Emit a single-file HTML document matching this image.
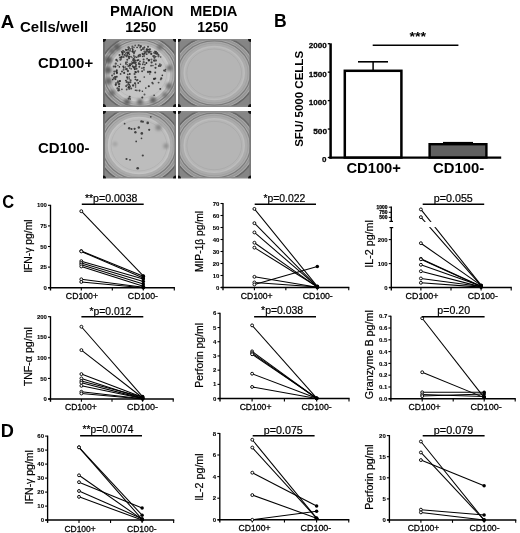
<!DOCTYPE html><html><head><meta charset="utf-8"><style>html,body{margin:0;padding:0;background:#fff;overflow:hidden;}svg{display:block;will-change:transform;filter:blur(0.3px);}text{font-family:"Liberation Sans", sans-serif;}</style></head><body>
<svg width="520" height="533" viewBox="0 0 520 533">
<rect width="520" height="533" fill="#fff"/>
<text font-size="18.41" font-weight="bold" fill="#000" transform="translate(0.63,27.70) scale(1.014,1)">A</text>
<text font-size="15.03" font-weight="bold" fill="#000" transform="translate(20.00,31.70) scale(0.997,1)">Cells/well</text>
<text font-size="15.17" font-weight="bold" fill="#000" transform="translate(110.03,16.20) scale(0.980,1)">PMA/ION</text>
<text font-size="14.37" font-weight="bold" fill="#000" transform="translate(125.19,31.96) scale(0.978,1)">1250</text>
<text font-size="14.64" font-weight="bold" fill="#000" transform="translate(189.94,16.00) scale(1.008,1)">MEDIA</text>
<text font-size="14.37" font-weight="bold" fill="#000" transform="translate(197.19,31.96) scale(0.978,1)">1250</text>
<text font-size="15.21" font-weight="bold" fill="#000" transform="translate(38.00,67.95) scale(0.981,1)">CD100+</text>
<text font-size="15.07" font-weight="bold" fill="#000" transform="translate(38.00,153.45) scale(0.994,1)">CD100-</text>
<defs>
<clipPath id="wc0"><rect x="103" y="39" width="73" height="68"/></clipPath>
<clipPath id="wc1"><rect x="178" y="39" width="73" height="68"/></clipPath>
<clipPath id="wc2"><rect x="103" y="111" width="73" height="67.5"/></clipPath>
<clipPath id="wc3"><rect x="178" y="111" width="73" height="67.5"/></clipPath>
<filter id="bl" x="-50%" y="-50%" width="200%" height="200%"><feGaussianBlur stdDeviation="0.6"/></filter>
<filter id="bl1" x="-20%" y="-20%" width="140%" height="140%"><feGaussianBlur stdDeviation="0.6"/></filter>
<filter id="bl2" x="-50%" y="-50%" width="200%" height="200%"><feGaussianBlur stdDeviation="1.5"/></filter>
<linearGradient id="topg" x1="0" y1="0" x2="0" y2="1"><stop offset="0" stop-color="#8e8e8e" stop-opacity="0.7"/><stop offset="1" stop-color="#8e8e8e" stop-opacity="0"/></linearGradient>
<radialGradient id="vig"><stop offset="0.78" stop-color="#9a9a9a" stop-opacity="0"/><stop offset="0.93" stop-color="#9a9a9a" stop-opacity="0.45"/><stop offset="1" stop-color="#8a8a8a" stop-opacity="0.8"/></radialGradient>
</defs>
<g clip-path="url(#wc0)"><g filter="url(#bl1)">
<rect x="100" y="36" width="79" height="74" fill="#b2b2b2"/>
<ellipse cx="139.8" cy="73.5" rx="46.61" ry="43.45" fill="none" stroke="#858585" stroke-width="12"/>
<ellipse cx="139.8" cy="73.5" rx="40.71" ry="37.95" fill="none" stroke="#666666" stroke-width="1.5"/>
<ellipse cx="139.8" cy="73.5" rx="38.05" ry="35.48" fill="none" stroke="#959595" stroke-width="1.8"/>
<ellipse cx="139.8" cy="73.5" rx="35.70" ry="33.27" fill="none" stroke="#7c7c7c" stroke-width="1.2"/>
<ellipse cx="139.8" cy="73.5" rx="33.33" ry="31.07" fill="none" stroke="#a0a0a0" stroke-width="1.0"/>
<ellipse cx="139.8" cy="73.5" rx="29.50" ry="27.50" fill="#c5c5c5" stroke="#cbcbcb" stroke-width="1.5"/>
<ellipse cx="139.8" cy="73.5" rx="26.90" ry="24.90" fill="none" stroke="#000" stroke-opacity="0.05" stroke-width="1"/>
<rect x="103" y="39" width="2.0" height="68" fill="#707070"/>
<rect x="174.4" y="39" width="1.6" height="68" fill="#7a7a7a"/>
<rect x="103" y="39" width="73" height="1.4" fill="#8a8a8a"/>
<rect x="103" y="105.6" width="73" height="1.4" fill="#8a8a8a"/>
<circle cx="103" cy="39" r="3.0" fill="#111"/>
<circle cx="176" cy="39" r="3.0" fill="#111"/>
<circle cx="103" cy="107" r="3.0" fill="#111"/>
<circle cx="176" cy="107" r="3.0" fill="#111"/>
</g></g>
<g clip-path="url(#wc1)"><g filter="url(#bl1)">
<rect x="175" y="36" width="79" height="74" fill="#ababab"/>
<ellipse cx="214.2" cy="73.0" rx="47.40" ry="42.03" fill="none" stroke="#858585" stroke-width="12"/>
<ellipse cx="214.2" cy="73.0" rx="41.40" ry="36.71" fill="none" stroke="#666666" stroke-width="1.5"/>
<ellipse cx="214.2" cy="73.0" rx="38.70" ry="34.31" fill="none" stroke="#959595" stroke-width="1.8"/>
<ellipse cx="214.2" cy="73.0" rx="36.30" ry="32.19" fill="none" stroke="#7c7c7c" stroke-width="1.2"/>
<ellipse cx="214.2" cy="73.0" rx="33.90" ry="30.06" fill="none" stroke="#a0a0a0" stroke-width="1.0"/>
<ellipse cx="214.2" cy="73.0" rx="30.00" ry="26.60" fill="#b5b5b5" stroke="#bdbdbd" stroke-width="1.5"/>
<ellipse cx="214.2" cy="73.0" rx="27.40" ry="24.00" fill="none" stroke="#000" stroke-opacity="0.05" stroke-width="1"/>
<rect x="178" y="39" width="2.0" height="68" fill="#707070"/>
<rect x="249.4" y="39" width="1.6" height="68" fill="#7a7a7a"/>
<rect x="178" y="39" width="73" height="1.4" fill="#8a8a8a"/>
<rect x="178" y="105.6" width="73" height="1.4" fill="#8a8a8a"/>
<circle cx="178" cy="39" r="3.0" fill="#111"/>
<circle cx="251" cy="39" r="3.0" fill="#111"/>
<circle cx="178" cy="107" r="3.0" fill="#111"/>
<circle cx="251" cy="107" r="3.0" fill="#111"/>
</g></g>
<g clip-path="url(#wc2)"><g filter="url(#bl1)">
<rect x="100" y="108" width="79" height="73.5" fill="#acacac"/>
<ellipse cx="139.0" cy="145.55" rx="48.19" ry="44.24" fill="none" stroke="#858585" stroke-width="12"/>
<ellipse cx="139.0" cy="145.55" rx="42.09" ry="38.64" fill="none" stroke="#666666" stroke-width="1.5"/>
<ellipse cx="139.0" cy="145.55" rx="39.34" ry="36.12" fill="none" stroke="#959595" stroke-width="1.8"/>
<ellipse cx="139.0" cy="145.55" rx="36.91" ry="33.88" fill="none" stroke="#7c7c7c" stroke-width="1.2"/>
<ellipse cx="139.0" cy="145.55" rx="34.46" ry="31.64" fill="none" stroke="#a0a0a0" stroke-width="1.0"/>
<ellipse cx="139.0" cy="145.55" rx="30.50" ry="28.00" fill="#bdbdbd" stroke="#c4c4c4" stroke-width="1.5"/>
<ellipse cx="139.0" cy="145.55" rx="27.90" ry="25.40" fill="none" stroke="#000" stroke-opacity="0.05" stroke-width="1"/>
<rect x="103" y="111" width="2.0" height="67.5" fill="#707070"/>
<rect x="174.4" y="111" width="1.6" height="67.5" fill="#7a7a7a"/>
<rect x="103" y="111" width="73" height="1.4" fill="#8a8a8a"/>
<rect x="103" y="177.1" width="73" height="1.4" fill="#8a8a8a"/>
<circle cx="103" cy="111" r="3.0" fill="#111"/>
<circle cx="176" cy="111" r="3.0" fill="#111"/>
<circle cx="103" cy="178.5" r="3.0" fill="#111"/>
<circle cx="176" cy="178.5" r="3.0" fill="#111"/>
</g></g>
<g clip-path="url(#wc3)"><g filter="url(#bl1)">
<rect x="175" y="108" width="79" height="73.5" fill="#ababab"/>
<ellipse cx="214.2" cy="145.55" rx="47.40" ry="42.34" fill="none" stroke="#858585" stroke-width="12"/>
<ellipse cx="214.2" cy="145.55" rx="41.40" ry="36.98" fill="none" stroke="#666666" stroke-width="1.5"/>
<ellipse cx="214.2" cy="145.55" rx="38.70" ry="34.57" fill="none" stroke="#959595" stroke-width="1.8"/>
<ellipse cx="214.2" cy="145.55" rx="36.30" ry="32.43" fill="none" stroke="#7c7c7c" stroke-width="1.2"/>
<ellipse cx="214.2" cy="145.55" rx="33.90" ry="30.28" fill="none" stroke="#a0a0a0" stroke-width="1.0"/>
<ellipse cx="214.2" cy="145.55" rx="30.00" ry="26.80" fill="#b5b5b5" stroke="#bdbdbd" stroke-width="1.5"/>
<ellipse cx="214.2" cy="145.55" rx="27.40" ry="24.20" fill="none" stroke="#000" stroke-opacity="0.05" stroke-width="1"/>
<rect x="178" y="111" width="2.0" height="67.5" fill="#707070"/>
<rect x="249.4" y="111" width="1.6" height="67.5" fill="#7a7a7a"/>
<rect x="178" y="111" width="73" height="1.4" fill="#8a8a8a"/>
<rect x="178" y="177.1" width="73" height="1.4" fill="#8a8a8a"/>
<circle cx="178" cy="111" r="3.0" fill="#111"/>
<circle cx="251" cy="111" r="3.0" fill="#111"/>
<circle cx="178" cy="178.5" r="3.0" fill="#111"/>
<circle cx="251" cy="178.5" r="3.0" fill="#111"/>
</g></g>
<g clip-path="url(#wc0)" filter="url(#bl)">
<circle cx="108.5" cy="60" r="3.5" fill="#5a5a5a" filter="url(#bl2)"/>
<circle cx="108" cy="70" r="3.5" fill="#5e5e5e" filter="url(#bl2)"/>
<circle cx="108.5" cy="81" r="3.5" fill="#666" filter="url(#bl2)"/>
<circle cx="112" cy="93" r="3" fill="#6a6a6a" filter="url(#bl2)"/>
<circle cx="127" cy="102" r="3" fill="#5e5e5e" filter="url(#bl2)"/>
<circle cx="140" cy="102" r="3" fill="#666" filter="url(#bl2)"/>
<circle cx="153" cy="100" r="3" fill="#5e5e5e" filter="url(#bl2)"/>
<circle cx="169.5" cy="68" r="3" fill="#707070" filter="url(#bl2)"/>
<circle cx="169" cy="86" r="3" fill="#6a6a6a" filter="url(#bl2)"/>
<circle cx="117" cy="47" r="3.5" fill="#5e5e5e" filter="url(#bl2)"/>
<circle cx="112" cy="51" r="3" fill="#6a6a6a" filter="url(#bl2)"/>
<circle cx="160" cy="47" r="3" fill="#707070" filter="url(#bl2)"/>
<circle cx="165" cy="95" r="2.5" fill="#707070" filter="url(#bl2)"/>
<circle cx="123.7" cy="57.0" r="1.01" fill="rgb(79,79,79)"/>
<circle cx="121.8" cy="57.1" r="0.99" fill="rgb(41,41,41)"/>
<circle cx="121.7" cy="51.9" r="0.79" fill="rgb(49,49,49)"/>
<circle cx="122.5" cy="54.7" r="0.85" fill="rgb(52,52,52)"/>
<circle cx="123.1" cy="51.1" r="1.12" fill="rgb(70,70,70)"/>
<circle cx="122.6" cy="52.9" r="1.14" fill="rgb(41,41,41)"/>
<circle cx="119.5" cy="55.0" r="1.00" fill="rgb(60,60,60)"/>
<circle cx="135.3" cy="50.8" r="0.87" fill="rgb(90,90,90)"/>
<circle cx="133.0" cy="51.9" r="0.91" fill="rgb(52,52,52)"/>
<circle cx="124.4" cy="54.9" r="0.84" fill="rgb(49,49,49)"/>
<circle cx="136.7" cy="57.3" r="0.80" fill="rgb(46,46,46)"/>
<circle cx="134.1" cy="52.2" r="1.07" fill="rgb(44,44,44)"/>
<circle cx="128.4" cy="47.4" r="1.03" fill="rgb(73,73,73)"/>
<circle cx="132.0" cy="57.5" r="0.81" fill="rgb(90,90,90)"/>
<circle cx="135.2" cy="45.5" r="0.91" fill="rgb(86,86,86)"/>
<circle cx="130.2" cy="49.0" r="0.83" fill="rgb(40,40,40)"/>
<circle cx="130.0" cy="50.8" r="1.10" fill="rgb(90,90,90)"/>
<circle cx="137.1" cy="47.3" r="0.88" fill="rgb(53,53,53)"/>
<circle cx="125.6" cy="55.4" r="1.07" fill="rgb(85,85,85)"/>
<circle cx="129.0" cy="57.1" r="1.12" fill="rgb(56,56,56)"/>
<circle cx="138.6" cy="55.3" r="0.89" fill="rgb(45,45,45)"/>
<circle cx="138.7" cy="45.4" r="1.10" fill="rgb(67,67,67)"/>
<circle cx="129.4" cy="54.2" r="0.81" fill="rgb(49,49,49)"/>
<circle cx="140.0" cy="56.0" r="0.96" fill="rgb(83,83,83)"/>
<circle cx="135.0" cy="56.7" r="0.95" fill="rgb(84,84,84)"/>
<circle cx="132.4" cy="46.5" r="1.04" fill="rgb(80,80,80)"/>
<circle cx="126.6" cy="50.0" r="1.11" fill="rgb(56,56,56)"/>
<circle cx="129.0" cy="47.9" r="1.09" fill="rgb(79,79,79)"/>
<circle cx="127.3" cy="55.2" r="1.14" fill="rgb(73,73,73)"/>
<circle cx="128.4" cy="49.7" r="0.91" fill="rgb(47,47,47)"/>
<circle cx="132.1" cy="51.4" r="0.76" fill="rgb(42,42,42)"/>
<circle cx="132.3" cy="48.2" r="1.07" fill="rgb(76,76,76)"/>
<circle cx="126.7" cy="56.4" r="0.93" fill="rgb(65,65,65)"/>
<circle cx="128.3" cy="49.3" r="0.80" fill="rgb(67,67,67)"/>
<circle cx="138.4" cy="56.5" r="1.12" fill="rgb(73,73,73)"/>
<circle cx="133.9" cy="56.3" r="0.80" fill="rgb(89,89,89)"/>
<circle cx="128.5" cy="53.2" r="0.85" fill="rgb(71,71,71)"/>
<circle cx="125.7" cy="53.3" r="0.80" fill="rgb(72,72,72)"/>
<circle cx="134.0" cy="53.1" r="1.03" fill="rgb(67,67,67)"/>
<circle cx="124.4" cy="51.8" r="1.08" fill="rgb(79,79,79)"/>
<circle cx="134.1" cy="51.9" r="0.96" fill="rgb(74,74,74)"/>
<circle cx="133.8" cy="55.3" r="0.84" fill="rgb(87,87,87)"/>
<circle cx="134.0" cy="47.4" r="0.82" fill="rgb(78,78,78)"/>
<circle cx="129.0" cy="56.3" r="0.84" fill="rgb(52,52,52)"/>
<circle cx="127.8" cy="53.3" r="0.85" fill="rgb(46,46,46)"/>
<circle cx="131.0" cy="56.6" r="0.97" fill="rgb(85,85,85)"/>
<circle cx="127.2" cy="52.6" r="1.11" fill="rgb(63,63,63)"/>
<circle cx="125.8" cy="49.8" r="1.05" fill="rgb(72,72,72)"/>
<circle cx="140.0" cy="54.9" r="1.07" fill="rgb(70,70,70)"/>
<circle cx="132.8" cy="50.0" r="0.98" fill="rgb(49,49,49)"/>
<circle cx="128.5" cy="52.4" r="0.98" fill="rgb(48,48,48)"/>
<circle cx="147.5" cy="50.0" r="0.92" fill="rgb(78,78,78)"/>
<circle cx="146.0" cy="51.8" r="0.77" fill="rgb(52,52,52)"/>
<circle cx="142.9" cy="49.0" r="1.05" fill="rgb(65,65,65)"/>
<circle cx="154.7" cy="51.4" r="0.79" fill="rgb(90,90,90)"/>
<circle cx="140.2" cy="55.8" r="1.07" fill="rgb(85,85,85)"/>
<circle cx="154.0" cy="56.1" r="1.13" fill="rgb(76,76,76)"/>
<circle cx="149.6" cy="49.8" r="1.14" fill="rgb(88,88,88)"/>
<circle cx="144.1" cy="56.1" r="1.05" fill="rgb(89,89,89)"/>
<circle cx="142.6" cy="56.5" r="0.80" fill="rgb(61,61,61)"/>
<circle cx="154.1" cy="52.8" r="1.06" fill="rgb(88,88,88)"/>
<circle cx="143.0" cy="54.4" r="0.87" fill="rgb(46,46,46)"/>
<circle cx="140.2" cy="47.5" r="1.01" fill="rgb(79,79,79)"/>
<circle cx="140.8" cy="46.2" r="1.13" fill="rgb(59,59,59)"/>
<circle cx="145.4" cy="52.2" r="0.98" fill="rgb(74,74,74)"/>
<circle cx="141.2" cy="50.0" r="0.95" fill="rgb(53,53,53)"/>
<circle cx="151.2" cy="53.8" r="1.14" fill="rgb(41,41,41)"/>
<circle cx="143.8" cy="48.9" r="0.95" fill="rgb(88,88,88)"/>
<circle cx="143.1" cy="47.8" r="0.79" fill="rgb(56,56,56)"/>
<circle cx="144.4" cy="47.3" r="0.97" fill="rgb(66,66,66)"/>
<circle cx="155.9" cy="51.9" r="1.07" fill="rgb(44,44,44)"/>
<circle cx="148.8" cy="52.4" r="1.13" fill="rgb(64,64,64)"/>
<circle cx="147.9" cy="51.5" r="0.77" fill="rgb(71,71,71)"/>
<circle cx="146.7" cy="50.2" r="0.99" fill="rgb(63,63,63)"/>
<circle cx="148.5" cy="49.5" r="0.86" fill="rgb(58,58,58)"/>
<circle cx="150.6" cy="53.6" r="0.76" fill="rgb(89,89,89)"/>
<circle cx="142.5" cy="53.7" r="0.91" fill="rgb(60,60,60)"/>
<circle cx="155.8" cy="56.6" r="0.78" fill="rgb(54,54,54)"/>
<circle cx="146.9" cy="49.4" r="1.14" fill="rgb(55,55,55)"/>
<circle cx="153.0" cy="56.1" r="0.81" fill="rgb(55,55,55)"/>
<circle cx="150.0" cy="49.1" r="0.83" fill="rgb(43,43,43)"/>
<circle cx="146.7" cy="51.3" r="1.01" fill="rgb(83,83,83)"/>
<circle cx="146.7" cy="54.1" r="0.96" fill="rgb(48,48,48)"/>
<circle cx="155.2" cy="53.4" r="0.85" fill="rgb(47,47,47)"/>
<circle cx="148.0" cy="46.8" r="0.95" fill="rgb(62,62,62)"/>
<circle cx="144.4" cy="51.5" r="1.04" fill="rgb(84,84,84)"/>
<circle cx="149.5" cy="51.8" r="1.05" fill="rgb(52,52,52)"/>
<circle cx="150.9" cy="51.7" r="0.75" fill="rgb(56,56,56)"/>
<circle cx="146.8" cy="51.7" r="0.79" fill="rgb(74,74,74)"/>
<circle cx="144.5" cy="53.7" r="1.12" fill="rgb(50,50,50)"/>
<circle cx="148.8" cy="51.8" r="0.90" fill="rgb(70,70,70)"/>
<circle cx="158.5" cy="55.0" r="0.99" fill="rgb(58,58,58)"/>
<circle cx="157.3" cy="53.4" r="1.11" fill="rgb(45,45,45)"/>
<circle cx="156.4" cy="52.1" r="0.79" fill="rgb(81,81,81)"/>
<circle cx="156.7" cy="53.7" r="1.14" fill="rgb(62,62,62)"/>
<circle cx="160.7" cy="57.0" r="0.77" fill="rgb(59,59,59)"/>
<circle cx="158.5" cy="56.3" r="1.11" fill="rgb(88,88,88)"/>
<circle cx="115.3" cy="66.6" r="1.11" fill="rgb(42,42,42)"/>
<circle cx="113.7" cy="66.6" r="0.99" fill="rgb(70,70,70)"/>
<circle cx="117.5" cy="61.0" r="0.82" fill="rgb(57,57,57)"/>
<circle cx="114.4" cy="71.6" r="1.12" fill="rgb(80,80,80)"/>
<circle cx="116.8" cy="70.2" r="0.94" fill="rgb(56,56,56)"/>
<circle cx="115.8" cy="63.7" r="1.13" fill="rgb(82,82,82)"/>
<circle cx="116.8" cy="72.3" r="0.94" fill="rgb(54,54,54)"/>
<circle cx="123.6" cy="69.8" r="1.06" fill="rgb(90,90,90)"/>
<circle cx="123.8" cy="67.7" r="0.85" fill="rgb(40,40,40)"/>
<circle cx="122.0" cy="71.5" r="0.93" fill="rgb(55,55,55)"/>
<circle cx="119.4" cy="66.9" r="0.81" fill="rgb(50,50,50)"/>
<circle cx="120.4" cy="59.7" r="1.11" fill="rgb(73,73,73)"/>
<circle cx="117.9" cy="65.5" r="0.77" fill="rgb(76,76,76)"/>
<circle cx="120.3" cy="57.5" r="1.08" fill="rgb(49,49,49)"/>
<circle cx="121.2" cy="58.8" r="0.86" fill="rgb(85,85,85)"/>
<circle cx="116.4" cy="71.3" r="1.03" fill="rgb(45,45,45)"/>
<circle cx="123.3" cy="66.6" r="1.09" fill="rgb(59,59,59)"/>
<circle cx="120.5" cy="64.3" r="0.76" fill="rgb(66,66,66)"/>
<circle cx="116.4" cy="59.9" r="1.08" fill="rgb(59,59,59)"/>
<circle cx="116.9" cy="73.0" r="1.02" fill="rgb(44,44,44)"/>
<circle cx="129.8" cy="68.1" r="0.79" fill="rgb(65,65,65)"/>
<circle cx="134.8" cy="69.1" r="1.06" fill="rgb(47,47,47)"/>
<circle cx="134.5" cy="57.7" r="0.90" fill="rgb(85,85,85)"/>
<circle cx="131.6" cy="62.0" r="0.80" fill="rgb(89,89,89)"/>
<circle cx="124.2" cy="72.9" r="1.07" fill="rgb(53,53,53)"/>
<circle cx="138.4" cy="59.9" r="1.00" fill="rgb(74,74,74)"/>
<circle cx="136.0" cy="72.3" r="1.05" fill="rgb(75,75,75)"/>
<circle cx="134.7" cy="61.5" r="0.83" fill="rgb(86,86,86)"/>
<circle cx="125.8" cy="62.3" r="0.86" fill="rgb(70,70,70)"/>
<circle cx="135.6" cy="62.6" r="1.08" fill="rgb(45,45,45)"/>
<circle cx="125.6" cy="67.1" r="0.80" fill="rgb(80,80,80)"/>
<circle cx="135.3" cy="60.3" r="0.91" fill="rgb(69,69,69)"/>
<circle cx="133.5" cy="58.9" r="0.84" fill="rgb(50,50,50)"/>
<circle cx="139.8" cy="64.2" r="1.06" fill="rgb(61,61,61)"/>
<circle cx="138.7" cy="64.1" r="0.95" fill="rgb(81,81,81)"/>
<circle cx="127.3" cy="59.8" r="1.03" fill="rgb(70,70,70)"/>
<circle cx="129.3" cy="63.9" r="0.76" fill="rgb(65,65,65)"/>
<circle cx="133.8" cy="62.4" r="1.07" fill="rgb(55,55,55)"/>
<circle cx="134.6" cy="66.9" r="0.76" fill="rgb(61,61,61)"/>
<circle cx="127.0" cy="62.3" r="0.93" fill="rgb(75,75,75)"/>
<circle cx="130.0" cy="65.4" r="1.07" fill="rgb(46,46,46)"/>
<circle cx="133.8" cy="60.0" r="1.06" fill="rgb(59,59,59)"/>
<circle cx="132.8" cy="63.0" r="0.95" fill="rgb(49,49,49)"/>
<circle cx="133.2" cy="60.6" r="1.12" fill="rgb(85,85,85)"/>
<circle cx="135.3" cy="72.0" r="0.98" fill="rgb(41,41,41)"/>
<circle cx="134.0" cy="60.6" r="0.78" fill="rgb(55,55,55)"/>
<circle cx="131.6" cy="64.0" r="0.88" fill="rgb(45,45,45)"/>
<circle cx="138.9" cy="63.1" r="0.94" fill="rgb(47,47,47)"/>
<circle cx="131.2" cy="68.8" r="0.85" fill="rgb(76,76,76)"/>
<circle cx="132.7" cy="66.2" r="0.97" fill="rgb(56,56,56)"/>
<circle cx="126.7" cy="69.1" r="1.11" fill="rgb(61,61,61)"/>
<circle cx="133.6" cy="59.4" r="1.08" fill="rgb(58,58,58)"/>
<circle cx="135.0" cy="63.1" r="1.05" fill="rgb(63,63,63)"/>
<circle cx="137.3" cy="60.4" r="0.97" fill="rgb(44,44,44)"/>
<circle cx="131.3" cy="63.8" r="1.06" fill="rgb(82,82,82)"/>
<circle cx="126.2" cy="69.2" r="1.09" fill="rgb(64,64,64)"/>
<circle cx="133.8" cy="67.4" r="1.06" fill="rgb(50,50,50)"/>
<circle cx="127.2" cy="64.8" r="0.81" fill="rgb(64,64,64)"/>
<circle cx="125.9" cy="63.8" r="0.88" fill="rgb(48,48,48)"/>
<circle cx="128.2" cy="66.3" r="0.88" fill="rgb(81,81,81)"/>
<circle cx="136.5" cy="68.7" r="1.07" fill="rgb(65,65,65)"/>
<circle cx="139.3" cy="66.8" r="0.94" fill="rgb(66,66,66)"/>
<circle cx="138.3" cy="71.7" r="0.98" fill="rgb(66,66,66)"/>
<circle cx="136.0" cy="65.0" r="1.15" fill="rgb(84,84,84)"/>
<circle cx="130.5" cy="64.2" r="0.98" fill="rgb(73,73,73)"/>
<circle cx="129.3" cy="65.6" r="0.92" fill="rgb(41,41,41)"/>
<circle cx="129.1" cy="58.3" r="1.04" fill="rgb(67,67,67)"/>
<circle cx="135.7" cy="66.8" r="1.05" fill="rgb(59,59,59)"/>
<circle cx="138.1" cy="71.1" r="0.85" fill="rgb(68,68,68)"/>
<circle cx="127.9" cy="71.0" r="1.14" fill="rgb(70,70,70)"/>
<circle cx="151.1" cy="65.7" r="0.85" fill="rgb(59,59,59)"/>
<circle cx="150.5" cy="72.1" r="1.10" fill="rgb(86,86,86)"/>
<circle cx="155.5" cy="67.8" r="1.10" fill="rgb(66,66,66)"/>
<circle cx="149.0" cy="60.0" r="1.01" fill="rgb(66,66,66)"/>
<circle cx="149.1" cy="71.5" r="0.79" fill="rgb(90,90,90)"/>
<circle cx="142.1" cy="71.2" r="0.98" fill="rgb(69,69,69)"/>
<circle cx="140.0" cy="61.3" r="0.87" fill="rgb(60,60,60)"/>
<circle cx="142.8" cy="64.3" r="0.93" fill="rgb(73,73,73)"/>
<circle cx="146.4" cy="63.0" r="0.98" fill="rgb(42,42,42)"/>
<circle cx="144.9" cy="64.6" r="0.88" fill="rgb(60,60,60)"/>
<circle cx="148.0" cy="72.0" r="1.14" fill="rgb(70,70,70)"/>
<circle cx="154.1" cy="60.6" r="1.09" fill="rgb(84,84,84)"/>
<circle cx="154.3" cy="60.5" r="1.09" fill="rgb(62,62,62)"/>
<circle cx="154.4" cy="57.7" r="1.00" fill="rgb(84,84,84)"/>
<circle cx="155.9" cy="60.6" r="1.00" fill="rgb(52,52,52)"/>
<circle cx="155.2" cy="72.6" r="1.01" fill="rgb(59,59,59)"/>
<circle cx="151.6" cy="62.4" r="1.11" fill="rgb(66,66,66)"/>
<circle cx="151.4" cy="59.6" r="1.03" fill="rgb(89,89,89)"/>
<circle cx="147.1" cy="58.7" r="0.84" fill="rgb(59,59,59)"/>
<circle cx="141.9" cy="68.2" r="0.86" fill="rgb(86,86,86)"/>
<circle cx="143.8" cy="67.8" r="1.07" fill="rgb(63,63,63)"/>
<circle cx="152.9" cy="65.6" r="0.80" fill="rgb(73,73,73)"/>
<circle cx="143.7" cy="62.2" r="1.12" fill="rgb(82,82,82)"/>
<circle cx="143.6" cy="59.6" r="1.02" fill="rgb(69,69,69)"/>
<circle cx="155.7" cy="64.3" r="0.96" fill="rgb(73,73,73)"/>
<circle cx="154.5" cy="57.6" r="0.98" fill="rgb(74,74,74)"/>
<circle cx="144.0" cy="69.9" r="0.78" fill="rgb(58,58,58)"/>
<circle cx="155.8" cy="60.4" r="0.82" fill="rgb(86,86,86)"/>
<circle cx="148.8" cy="60.4" r="1.11" fill="rgb(42,42,42)"/>
<circle cx="150.0" cy="71.7" r="0.98" fill="rgb(40,40,40)"/>
<circle cx="158.9" cy="66.1" r="1.01" fill="rgb(63,63,63)"/>
<circle cx="161.1" cy="65.0" r="0.76" fill="rgb(58,58,58)"/>
<circle cx="164.1" cy="70.6" r="1.02" fill="rgb(73,73,73)"/>
<circle cx="165.5" cy="69.5" r="0.79" fill="rgb(67,67,67)"/>
<circle cx="159.8" cy="64.3" r="1.06" fill="rgb(90,90,90)"/>
<circle cx="160.2" cy="65.9" r="1.09" fill="rgb(78,78,78)"/>
<circle cx="165.2" cy="71.0" r="0.82" fill="rgb(49,49,49)"/>
<circle cx="117.7" cy="82.4" r="1.07" fill="rgb(72,72,72)"/>
<circle cx="115.1" cy="77.1" r="1.07" fill="rgb(44,44,44)"/>
<circle cx="118.2" cy="82.0" r="1.04" fill="rgb(79,79,79)"/>
<circle cx="117.9" cy="81.1" r="0.86" fill="rgb(77,77,77)"/>
<circle cx="116.0" cy="83.1" r="0.95" fill="rgb(64,64,64)"/>
<circle cx="112.1" cy="75.5" r="1.03" fill="rgb(78,78,78)"/>
<circle cx="120.6" cy="73.9" r="0.91" fill="rgb(63,63,63)"/>
<circle cx="119.2" cy="83.9" r="1.13" fill="rgb(48,48,48)"/>
<circle cx="115.8" cy="84.8" r="1.14" fill="rgb(49,49,49)"/>
<circle cx="119.9" cy="81.1" r="1.14" fill="rgb(40,40,40)"/>
<circle cx="112.8" cy="79.6" r="0.78" fill="rgb(42,42,42)"/>
<circle cx="118.9" cy="84.1" r="1.14" fill="rgb(79,79,79)"/>
<circle cx="116.8" cy="76.7" r="0.93" fill="rgb(54,54,54)"/>
<circle cx="113.8" cy="78.2" r="1.14" fill="rgb(79,79,79)"/>
<circle cx="117.4" cy="88.4" r="1.04" fill="rgb(76,76,76)"/>
<circle cx="119.1" cy="86.4" r="0.99" fill="rgb(51,51,51)"/>
<circle cx="115.4" cy="79.1" r="1.09" fill="rgb(64,64,64)"/>
<circle cx="114.1" cy="73.8" r="0.92" fill="rgb(55,55,55)"/>
<circle cx="126.9" cy="81.5" r="0.82" fill="rgb(53,53,53)"/>
<circle cx="130.4" cy="82.2" r="1.05" fill="rgb(70,70,70)"/>
<circle cx="131.2" cy="88.4" r="1.02" fill="rgb(71,71,71)"/>
<circle cx="127.3" cy="78.9" r="0.78" fill="rgb(84,84,84)"/>
<circle cx="128.4" cy="87.7" r="1.00" fill="rgb(73,73,73)"/>
<circle cx="126.9" cy="77.1" r="0.91" fill="rgb(81,81,81)"/>
<circle cx="135.4" cy="77.2" r="0.89" fill="rgb(49,49,49)"/>
<circle cx="135.6" cy="85.0" r="0.80" fill="rgb(55,55,55)"/>
<circle cx="135.6" cy="87.1" r="0.76" fill="rgb(60,60,60)"/>
<circle cx="137.4" cy="80.0" r="1.09" fill="rgb(64,64,64)"/>
<circle cx="129.2" cy="84.9" r="0.96" fill="rgb(43,43,43)"/>
<circle cx="128.8" cy="82.4" r="0.95" fill="rgb(52,52,52)"/>
<circle cx="126.4" cy="82.2" r="0.76" fill="rgb(59,59,59)"/>
<circle cx="130.6" cy="80.4" r="1.03" fill="rgb(73,73,73)"/>
<circle cx="135.3" cy="77.0" r="1.04" fill="rgb(82,82,82)"/>
<circle cx="130.0" cy="86.6" r="1.08" fill="rgb(74,74,74)"/>
<circle cx="135.4" cy="79.3" r="0.90" fill="rgb(62,62,62)"/>
<circle cx="127.6" cy="77.5" r="0.89" fill="rgb(53,53,53)"/>
<circle cx="126.2" cy="86.1" r="1.05" fill="rgb(70,70,70)"/>
<circle cx="133.1" cy="85.5" r="1.14" fill="rgb(59,59,59)"/>
<circle cx="134.6" cy="74.0" r="1.09" fill="rgb(75,75,75)"/>
<circle cx="135.0" cy="83.3" r="1.13" fill="rgb(63,63,63)"/>
<circle cx="127.8" cy="82.8" r="0.79" fill="rgb(67,67,67)"/>
<circle cx="125.9" cy="80.6" r="0.95" fill="rgb(61,61,61)"/>
<circle cx="128.6" cy="83.9" r="0.84" fill="rgb(65,65,65)"/>
<circle cx="127.2" cy="84.9" r="0.89" fill="rgb(85,85,85)"/>
<circle cx="127.8" cy="74.4" r="0.89" fill="rgb(67,67,67)"/>
<circle cx="136.9" cy="80.4" r="0.85" fill="rgb(75,75,75)"/>
<circle cx="128.9" cy="87.2" r="1.11" fill="rgb(47,47,47)"/>
<circle cx="129.8" cy="74.0" r="0.91" fill="rgb(43,43,43)"/>
<circle cx="130.0" cy="86.1" r="0.87" fill="rgb(86,86,86)"/>
<circle cx="129.2" cy="76.9" r="0.76" fill="rgb(62,62,62)"/>
<circle cx="129.2" cy="78.8" r="0.87" fill="rgb(82,82,82)"/>
<circle cx="138.2" cy="83.0" r="0.90" fill="rgb(61,61,61)"/>
<circle cx="155.3" cy="78.6" r="0.98" fill="rgb(53,53,53)"/>
<circle cx="152.3" cy="82.7" r="1.00" fill="rgb(66,66,66)"/>
<circle cx="149.8" cy="74.0" r="0.78" fill="rgb(69,69,69)"/>
<circle cx="154.1" cy="78.9" r="1.11" fill="rgb(42,42,42)"/>
<circle cx="152.9" cy="83.6" r="0.86" fill="rgb(71,71,71)"/>
<circle cx="145.8" cy="88.1" r="0.81" fill="rgb(52,52,52)"/>
<circle cx="144.3" cy="77.0" r="0.84" fill="rgb(73,73,73)"/>
<circle cx="140.0" cy="81.4" r="0.91" fill="rgb(55,55,55)"/>
<circle cx="148.8" cy="86.2" r="1.06" fill="rgb(45,45,45)"/>
<circle cx="161.3" cy="78.4" r="1.10" fill="rgb(60,60,60)"/>
<circle cx="162.3" cy="75.4" r="0.83" fill="rgb(50,50,50)"/>
<circle cx="158.6" cy="82.6" r="0.95" fill="rgb(76,76,76)"/>
<circle cx="160.7" cy="79.4" r="0.90" fill="rgb(82,82,82)"/>
<circle cx="119.3" cy="90.2" r="0.93" fill="rgb(89,89,89)"/>
<circle cx="118.9" cy="89.1" r="1.00" fill="rgb(66,66,66)"/>
<circle cx="121.9" cy="89.3" r="0.85" fill="rgb(72,72,72)"/>
<circle cx="118.3" cy="90.4" r="1.05" fill="rgb(57,57,57)"/>
<circle cx="136.8" cy="90.4" r="0.90" fill="rgb(82,82,82)"/>
<circle cx="128.7" cy="98.6" r="1.14" fill="rgb(70,70,70)"/>
<circle cx="139.5" cy="90.6" r="1.03" fill="rgb(66,66,66)"/>
<circle cx="130.2" cy="99.0" r="0.81" fill="rgb(50,50,50)"/>
<circle cx="135.4" cy="90.3" r="0.77" fill="rgb(58,58,58)"/>
<circle cx="129.7" cy="96.8" r="1.07" fill="rgb(65,65,65)"/>
<circle cx="129.3" cy="88.9" r="0.97" fill="rgb(70,70,70)"/>
<circle cx="126.7" cy="89.5" r="0.93" fill="rgb(81,81,81)"/>
<circle cx="144.5" cy="94.6" r="1.00" fill="rgb(88,88,88)"/>
<circle cx="142.3" cy="97.4" r="1.02" fill="rgb(53,53,53)"/>
<circle cx="142.4" cy="91.2" r="0.79" fill="rgb(56,56,56)"/>
<circle cx="154.1" cy="95.2" r="0.81" fill="rgb(41,41,41)"/>
<circle cx="160.3" cy="88.9" r="0.97" fill="rgb(44,44,44)"/>
</g>
<g clip-path="url(#wc2)" filter="url(#bl)">
<circle cx="158.5" cy="127.5" r="3" fill="#858585" filter="url(#bl2)"/>
<circle cx="166" cy="146" r="2.5" fill="#8a8a8a" filter="url(#bl2)"/>
<circle cx="115" cy="144" r="2" fill="#999" filter="url(#bl2)"/>
<circle cx="129.2" cy="128.3" r="1.21" fill="#404040"/>
<circle cx="131.5" cy="129" r="1.10" fill="#404040"/>
<circle cx="134.6" cy="128.8" r="1.10" fill="#404040"/>
<circle cx="138.8" cy="127.5" r="1.21" fill="#404040"/>
<circle cx="141.5" cy="121.4" r="1.21" fill="#404040"/>
<circle cx="143" cy="121.8" r="0.99" fill="#404040"/>
<circle cx="147.7" cy="122.9" r="1.32" fill="#404040"/>
<circle cx="149.2" cy="129.8" r="1.10" fill="#404040"/>
<circle cx="135.4" cy="132.2" r="1.21" fill="#404040"/>
<circle cx="141.8" cy="133.4" r="1.32" fill="#404040"/>
<circle cx="136.2" cy="141.4" r="0.88" fill="#404040"/>
<circle cx="141.5" cy="138.3" r="0.88" fill="#404040"/>
<circle cx="126.5" cy="159" r="1.10" fill="#404040"/>
<circle cx="130" cy="159.8" r="0.88" fill="#404040"/>
<circle cx="142.8" cy="155.5" r="1.10" fill="#404040"/>
<circle cx="137.7" cy="168.3" r="1.32" fill="#404040"/>
<circle cx="124.6" cy="123.7" r="0.88" fill="#404040"/>
<circle cx="150.8" cy="116.8" r="0.88" fill="#404040"/>
</g>
<text font-size="18.12" font-weight="bold" fill="#000" transform="translate(273.96,27.40) scale(0.968,1)">B</text>
<line x1="330.60" y1="43.30" x2="330.60" y2="158.70" stroke="#000" stroke-width="2.5"/>
<line x1="329.40" y1="157.60" x2="501.20" y2="157.60" stroke="#000" stroke-width="2.4"/>
<line x1="327.80" y1="157.50" x2="330.00" y2="157.50" stroke="#000" stroke-width="1.3"/>
<line x1="327.80" y1="129.05" x2="330.00" y2="129.05" stroke="#000" stroke-width="1.3"/>
<line x1="327.80" y1="100.60" x2="330.00" y2="100.60" stroke="#000" stroke-width="1.3"/>
<line x1="327.80" y1="72.15" x2="330.00" y2="72.15" stroke="#000" stroke-width="1.3"/>
<line x1="327.80" y1="43.70" x2="330.00" y2="43.70" stroke="#000" stroke-width="1.3"/>
<text font-size="8.00" font-weight="bold" fill="#000" stroke="#000" stroke-width="0.25" transform="translate(308.72,48.10) scale(1.012,1)">2000</text>
<text font-size="8.00" font-weight="bold" fill="#000" stroke="#000" stroke-width="0.25" transform="translate(308.77,76.60) scale(1.014,1)">1500</text>
<text font-size="8.00" font-weight="bold" fill="#000" stroke="#000" stroke-width="0.25" transform="translate(308.77,105.10) scale(1.014,1)">1000</text>
<text font-size="8.00" font-weight="bold" fill="#000" stroke="#000" stroke-width="0.25" transform="translate(313.15,133.70) scale(1.042,1)">500</text>
<text font-size="8.00" font-weight="bold" fill="#000" stroke="#000" stroke-width="0.25" transform="translate(322.08,162.10) scale(1.000,1)">0</text>
<rect x="344.8" y="70.8" width="56.6" height="86.7" fill="#fff" stroke="#000" stroke-width="2.5"/>
<line x1="373.10" y1="61.80" x2="373.10" y2="70.00" stroke="#000" stroke-width="1.5"/>
<line x1="358.00" y1="61.80" x2="388.00" y2="61.80" stroke="#000" stroke-width="1.6"/>
<rect x="429.6" y="144.2" width="56.8" height="13.300000000000011" fill="#606060" stroke="#000" stroke-width="2.4"/>
<line x1="443.00" y1="142.60" x2="473.00" y2="142.60" stroke="#000" stroke-width="1.4"/>
<line x1="372.70" y1="45.20" x2="458.40" y2="45.20" stroke="#000" stroke-width="1.6"/>
<text font-size="12.43" font-weight="bold" fill="#000" transform="translate(409.43,40.78) scale(1.144,1)">***</text>
<text font-size="15.49" font-weight="bold" fill="#000" transform="translate(346.41,173.35) scale(0.952,1)">CD100+</text>
<text font-size="15.49" font-weight="bold" fill="#000" transform="translate(433.01,173.35) scale(0.960,1)">CD100-</text>
<text font-size="10.80" font-weight="bold" transform="translate(303.30,146.85) rotate(-90) scale(1.066,1)">SFU/ 5000 CELLS</text>
<text font-size="17.89" font-weight="bold" fill="#000" transform="translate(2.14,207.72) scale(0.922,1)">C</text>
<line x1="50.50" y1="204.80" x2="50.50" y2="290.50" stroke="#000" stroke-width="1.35"/>
<line x1="48.30" y1="287.70" x2="174.90" y2="287.70" stroke="#000" stroke-width="1.5"/>
<line x1="48.00" y1="287.70" x2="50.50" y2="287.70" stroke="#000" stroke-width="1.1"/>
<text x="46.90" y="289.80" font-size="6" font-weight="bold" text-anchor="end" stroke="#000" stroke-width="0.1">0</text>
<line x1="48.00" y1="267.10" x2="50.50" y2="267.10" stroke="#000" stroke-width="1.1"/>
<text x="46.90" y="269.20" font-size="6" font-weight="bold" text-anchor="end" stroke="#000" stroke-width="0.1">25</text>
<line x1="48.00" y1="246.50" x2="50.50" y2="246.50" stroke="#000" stroke-width="1.1"/>
<text x="46.90" y="248.60" font-size="6" font-weight="bold" text-anchor="end" stroke="#000" stroke-width="0.1">50</text>
<line x1="48.00" y1="225.90" x2="50.50" y2="225.90" stroke="#000" stroke-width="1.1"/>
<text x="46.90" y="228.00" font-size="6" font-weight="bold" text-anchor="end" stroke="#000" stroke-width="0.1">75</text>
<line x1="48.00" y1="205.30" x2="50.50" y2="205.30" stroke="#000" stroke-width="1.1"/>
<text x="46.90" y="207.40" font-size="6" font-weight="bold" text-anchor="end" stroke="#000" stroke-width="0.1">100</text>
<line x1="81.30" y1="287.70" x2="81.30" y2="290.50" stroke="#000" stroke-width="1.1"/>
<line x1="112.30" y1="287.70" x2="112.30" y2="290.50" stroke="#000" stroke-width="1.1"/>
<line x1="143.30" y1="287.70" x2="143.30" y2="290.50" stroke="#000" stroke-width="1.1"/>
<line x1="174.30" y1="287.70" x2="174.30" y2="290.50" stroke="#000" stroke-width="1.1"/>
<line x1="81.30" y1="211.23" x2="143.30" y2="275.92" stroke="#000" stroke-width="1.05"/>
<line x1="81.30" y1="251.03" x2="143.30" y2="276.16" stroke="#000" stroke-width="1.05"/>
<line x1="81.30" y1="251.44" x2="143.30" y2="278.06" stroke="#000" stroke-width="1.05"/>
<line x1="81.30" y1="261.17" x2="143.30" y2="279.05" stroke="#000" stroke-width="1.05"/>
<line x1="81.30" y1="262.98" x2="143.30" y2="281.52" stroke="#000" stroke-width="1.05"/>
<line x1="81.30" y1="264.63" x2="143.30" y2="283.99" stroke="#000" stroke-width="1.05"/>
<line x1="81.30" y1="266.44" x2="143.30" y2="286.22" stroke="#000" stroke-width="1.05"/>
<line x1="81.30" y1="279.30" x2="143.30" y2="287.21" stroke="#000" stroke-width="1.05"/>
<line x1="81.30" y1="281.93" x2="143.30" y2="287.70" stroke="#000" stroke-width="1.05"/>
<circle cx="143.3" cy="275.92" r="1.75" fill="#000"/>
<circle cx="143.3" cy="276.16" r="1.75" fill="#000"/>
<circle cx="143.3" cy="278.06" r="1.75" fill="#000"/>
<circle cx="143.3" cy="279.05" r="1.75" fill="#000"/>
<circle cx="143.3" cy="281.52" r="1.75" fill="#000"/>
<circle cx="143.3" cy="283.99" r="1.75" fill="#000"/>
<circle cx="143.3" cy="286.22" r="1.75" fill="#000"/>
<circle cx="143.3" cy="287.21" r="1.75" fill="#000"/>
<circle cx="143.3" cy="287.70" r="1.75" fill="#000"/>
<circle cx="81.3" cy="211.23" r="1.45" fill="#fff" stroke="#000" stroke-width="0.95"/>
<circle cx="81.3" cy="251.03" r="1.45" fill="#fff" stroke="#000" stroke-width="0.95"/>
<circle cx="81.3" cy="251.44" r="1.45" fill="#fff" stroke="#000" stroke-width="0.95"/>
<circle cx="81.3" cy="261.17" r="1.45" fill="#fff" stroke="#000" stroke-width="0.95"/>
<circle cx="81.3" cy="262.98" r="1.45" fill="#fff" stroke="#000" stroke-width="0.95"/>
<circle cx="81.3" cy="264.63" r="1.45" fill="#fff" stroke="#000" stroke-width="0.95"/>
<circle cx="81.3" cy="266.44" r="1.45" fill="#fff" stroke="#000" stroke-width="0.95"/>
<circle cx="81.3" cy="279.30" r="1.45" fill="#fff" stroke="#000" stroke-width="0.95"/>
<circle cx="81.3" cy="281.93" r="1.45" fill="#fff" stroke="#000" stroke-width="0.95"/>
<text font-size="8.59" font-weight="normal" fill="#000" stroke="#000" stroke-width="0.26" transform="translate(65.86,299.11) scale(1.015,1)">CD100+</text>
<text font-size="8.59" font-weight="normal" fill="#000" stroke="#000" stroke-width="0.26" transform="translate(127.86,299.11) scale(1.020,1)">CD100-</text>
<text font-size="10.20" font-weight="normal" stroke="#000" stroke-width="0.2" transform="translate(32.10,272.83) rotate(-90) scale(1.016,1)">IFN-&#947; pg/ml</text>
<text font-size="10.30" font-weight="normal" stroke="#000" stroke-width="0.2" transform="translate(84.89,201.50) scale(1.027,1)">**p=0.0038</text>
<line x1="81.80" y1="204.30" x2="143.70" y2="204.30" stroke="#000" stroke-width="1.4"/>
<line x1="223.00" y1="203.00" x2="223.00" y2="290.30" stroke="#000" stroke-width="1.35"/>
<line x1="220.80" y1="287.50" x2="349.35" y2="287.50" stroke="#000" stroke-width="1.5"/>
<line x1="220.50" y1="287.50" x2="223.00" y2="287.50" stroke="#000" stroke-width="1.1"/>
<text x="219.40" y="289.60" font-size="6" font-weight="bold" text-anchor="end" stroke="#000" stroke-width="0.1">0</text>
<line x1="220.50" y1="275.50" x2="223.00" y2="275.50" stroke="#000" stroke-width="1.1"/>
<text x="219.40" y="277.60" font-size="6" font-weight="bold" text-anchor="end" stroke="#000" stroke-width="0.1">10</text>
<line x1="220.50" y1="263.50" x2="223.00" y2="263.50" stroke="#000" stroke-width="1.1"/>
<text x="219.40" y="265.60" font-size="6" font-weight="bold" text-anchor="end" stroke="#000" stroke-width="0.1">20</text>
<line x1="220.50" y1="251.50" x2="223.00" y2="251.50" stroke="#000" stroke-width="1.1"/>
<text x="219.40" y="253.60" font-size="6" font-weight="bold" text-anchor="end" stroke="#000" stroke-width="0.1">30</text>
<line x1="220.50" y1="239.50" x2="223.00" y2="239.50" stroke="#000" stroke-width="1.1"/>
<text x="219.40" y="241.60" font-size="6" font-weight="bold" text-anchor="end" stroke="#000" stroke-width="0.1">40</text>
<line x1="220.50" y1="227.50" x2="223.00" y2="227.50" stroke="#000" stroke-width="1.1"/>
<text x="219.40" y="229.60" font-size="6" font-weight="bold" text-anchor="end" stroke="#000" stroke-width="0.1">50</text>
<line x1="220.50" y1="215.50" x2="223.00" y2="215.50" stroke="#000" stroke-width="1.1"/>
<text x="219.40" y="217.60" font-size="6" font-weight="bold" text-anchor="end" stroke="#000" stroke-width="0.1">60</text>
<line x1="220.50" y1="203.50" x2="223.00" y2="203.50" stroke="#000" stroke-width="1.1"/>
<text x="219.40" y="205.60" font-size="6" font-weight="bold" text-anchor="end" stroke="#000" stroke-width="0.1">70</text>
<line x1="254.40" y1="287.50" x2="254.40" y2="290.30" stroke="#000" stroke-width="1.1"/>
<line x1="285.85" y1="287.50" x2="285.85" y2="290.30" stroke="#000" stroke-width="1.1"/>
<line x1="317.30" y1="287.50" x2="317.30" y2="290.30" stroke="#000" stroke-width="1.1"/>
<line x1="348.75" y1="287.50" x2="348.75" y2="290.30" stroke="#000" stroke-width="1.1"/>
<line x1="254.40" y1="208.90" x2="317.30" y2="286.30" stroke="#000" stroke-width="1.05"/>
<line x1="254.40" y1="223.18" x2="317.30" y2="286.90" stroke="#000" stroke-width="1.05"/>
<line x1="254.40" y1="232.42" x2="317.30" y2="286.54" stroke="#000" stroke-width="1.05"/>
<line x1="254.40" y1="242.74" x2="317.30" y2="287.14" stroke="#000" stroke-width="1.05"/>
<line x1="254.40" y1="247.66" x2="317.30" y2="286.78" stroke="#000" stroke-width="1.05"/>
<line x1="254.40" y1="276.82" x2="317.30" y2="287.26" stroke="#000" stroke-width="1.05"/>
<line x1="254.40" y1="282.46" x2="317.30" y2="287.02" stroke="#000" stroke-width="1.05"/>
<line x1="254.40" y1="284.50" x2="317.30" y2="266.38" stroke="#000" stroke-width="1.05"/>
<circle cx="317.3" cy="286.30" r="1.75" fill="#000"/>
<circle cx="317.3" cy="286.90" r="1.75" fill="#000"/>
<circle cx="317.3" cy="286.54" r="1.75" fill="#000"/>
<circle cx="317.3" cy="287.14" r="1.75" fill="#000"/>
<circle cx="317.3" cy="286.78" r="1.75" fill="#000"/>
<circle cx="317.3" cy="287.26" r="1.75" fill="#000"/>
<circle cx="317.3" cy="287.02" r="1.75" fill="#000"/>
<circle cx="317.3" cy="266.38" r="1.75" fill="#000"/>
<circle cx="254.4" cy="208.90" r="1.45" fill="#fff" stroke="#000" stroke-width="0.95"/>
<circle cx="254.4" cy="223.18" r="1.45" fill="#fff" stroke="#000" stroke-width="0.95"/>
<circle cx="254.4" cy="232.42" r="1.45" fill="#fff" stroke="#000" stroke-width="0.95"/>
<circle cx="254.4" cy="242.74" r="1.45" fill="#fff" stroke="#000" stroke-width="0.95"/>
<circle cx="254.4" cy="247.66" r="1.45" fill="#fff" stroke="#000" stroke-width="0.95"/>
<circle cx="254.4" cy="276.82" r="1.45" fill="#fff" stroke="#000" stroke-width="0.95"/>
<circle cx="254.4" cy="282.46" r="1.45" fill="#fff" stroke="#000" stroke-width="0.95"/>
<circle cx="254.4" cy="284.50" r="1.45" fill="#fff" stroke="#000" stroke-width="0.95"/>
<text font-size="8.59" font-weight="normal" fill="#000" stroke="#000" stroke-width="0.26" transform="translate(240.67,298.91) scale(1.006,1)">CD100+</text>
<text font-size="8.59" font-weight="normal" fill="#000" stroke="#000" stroke-width="0.26" transform="translate(302.66,298.91) scale(1.020,1)">CD100-</text>
<text font-size="10.20" font-weight="normal" stroke="#000" stroke-width="0.2" transform="translate(203.10,272.02) rotate(-90) scale(1.007,1)">MIP-1&#946; pg/ml</text>
<text font-size="10.30" font-weight="normal" stroke="#000" stroke-width="0.2" transform="translate(263.39,201.90) scale(1.010,1)">*p=0.022</text>
<line x1="254.70" y1="204.30" x2="316.00" y2="204.30" stroke="#000" stroke-width="1.4"/>
<line x1="391.30" y1="227.60" x2="391.30" y2="290.40" stroke="#000" stroke-width="1.35"/>
<line x1="389.10" y1="287.60" x2="511.80" y2="287.60" stroke="#000" stroke-width="1.5"/>
<line x1="388.80" y1="287.60" x2="391.30" y2="287.60" stroke="#000" stroke-width="1.1"/>
<text x="387.70" y="289.70" font-size="6" font-weight="bold" text-anchor="end" stroke="#000" stroke-width="0.1">0</text>
<line x1="388.80" y1="263.60" x2="391.30" y2="263.60" stroke="#000" stroke-width="1.1"/>
<text x="387.70" y="265.70" font-size="6" font-weight="bold" text-anchor="end" stroke="#000" stroke-width="0.1">100</text>
<line x1="388.80" y1="239.60" x2="391.30" y2="239.60" stroke="#000" stroke-width="1.1"/>
<text x="387.70" y="241.70" font-size="6" font-weight="bold" text-anchor="end" stroke="#000" stroke-width="0.1">200</text>
<line x1="420.90" y1="287.60" x2="420.90" y2="290.40" stroke="#000" stroke-width="1.1"/>
<line x1="451.00" y1="287.60" x2="451.00" y2="290.40" stroke="#000" stroke-width="1.1"/>
<line x1="481.10" y1="287.60" x2="481.10" y2="290.40" stroke="#000" stroke-width="1.1"/>
<line x1="511.20" y1="287.60" x2="511.20" y2="290.40" stroke="#000" stroke-width="1.1"/>
<line x1="420.90" y1="209.43" x2="481.10" y2="285.20" stroke="#000" stroke-width="1.05"/>
<line x1="420.90" y1="217.15" x2="481.10" y2="285.68" stroke="#000" stroke-width="1.05"/>
<line x1="420.90" y1="243.20" x2="481.10" y2="285.44" stroke="#000" stroke-width="1.05"/>
<line x1="420.90" y1="258.80" x2="481.10" y2="286.16" stroke="#000" stroke-width="1.05"/>
<line x1="420.90" y1="259.28" x2="481.10" y2="286.64" stroke="#000" stroke-width="1.05"/>
<line x1="420.90" y1="264.80" x2="481.10" y2="285.92" stroke="#000" stroke-width="1.05"/>
<line x1="420.90" y1="271.28" x2="481.10" y2="286.88" stroke="#000" stroke-width="1.05"/>
<line x1="420.90" y1="278.48" x2="481.10" y2="286.40" stroke="#000" stroke-width="1.05"/>
<line x1="420.90" y1="282.80" x2="481.10" y2="287.12" stroke="#000" stroke-width="1.05"/>
<rect x="400" y="221.9" width="60" height="5.2" fill="#fff"/>
<line x1="391.30" y1="206.60" x2="391.30" y2="221.60" stroke="#000" stroke-width="1.35"/>
<line x1="389.40" y1="221.40" x2="393.00" y2="221.40" stroke="#000" stroke-width="1.2"/>
<line x1="389.60" y1="227.60" x2="393.20" y2="227.60" stroke="#000" stroke-width="1.2"/>
<line x1="388.80" y1="207.20" x2="391.30" y2="207.20" stroke="#000" stroke-width="1.0"/>
<line x1="388.80" y1="212.30" x2="391.30" y2="212.30" stroke="#000" stroke-width="1.0"/>
<line x1="388.80" y1="217.40" x2="391.30" y2="217.40" stroke="#000" stroke-width="1.0"/>
<text x="387.40" y="209.00" font-size="4.9" font-weight="bold" text-anchor="end" stroke="#000" stroke-width="0.25">1000</text>
<text x="387.40" y="214.10" font-size="4.9" font-weight="bold" text-anchor="end" stroke="#000" stroke-width="0.25">750</text>
<text x="387.40" y="219.20" font-size="4.9" font-weight="bold" text-anchor="end" stroke="#000" stroke-width="0.25">500</text>
<circle cx="481.1" cy="285.20" r="1.75" fill="#000"/>
<circle cx="481.1" cy="285.68" r="1.75" fill="#000"/>
<circle cx="481.1" cy="285.44" r="1.75" fill="#000"/>
<circle cx="481.1" cy="286.16" r="1.75" fill="#000"/>
<circle cx="481.1" cy="286.64" r="1.75" fill="#000"/>
<circle cx="481.1" cy="285.92" r="1.75" fill="#000"/>
<circle cx="481.1" cy="286.88" r="1.75" fill="#000"/>
<circle cx="481.1" cy="286.40" r="1.75" fill="#000"/>
<circle cx="481.1" cy="287.12" r="1.75" fill="#000"/>
<circle cx="420.9" cy="209.43" r="1.45" fill="#fff" stroke="#000" stroke-width="0.95"/>
<circle cx="420.9" cy="217.15" r="1.45" fill="#fff" stroke="#000" stroke-width="0.95"/>
<circle cx="420.9" cy="243.20" r="1.45" fill="#fff" stroke="#000" stroke-width="0.95"/>
<circle cx="420.9" cy="258.80" r="1.45" fill="#fff" stroke="#000" stroke-width="0.95"/>
<circle cx="420.9" cy="259.28" r="1.45" fill="#fff" stroke="#000" stroke-width="0.95"/>
<circle cx="420.9" cy="264.80" r="1.45" fill="#fff" stroke="#000" stroke-width="0.95"/>
<circle cx="420.9" cy="271.28" r="1.45" fill="#fff" stroke="#000" stroke-width="0.95"/>
<circle cx="420.9" cy="278.48" r="1.45" fill="#fff" stroke="#000" stroke-width="0.95"/>
<circle cx="420.9" cy="282.80" r="1.45" fill="#fff" stroke="#000" stroke-width="0.95"/>
<text font-size="8.59" font-weight="normal" fill="#000" stroke="#000" stroke-width="0.26" transform="translate(405.56,299.01) scale(1.035,1)">CD100+</text>
<text font-size="8.59" font-weight="normal" fill="#000" stroke="#000" stroke-width="0.26" transform="translate(467.76,299.01) scale(1.020,1)">CD100-</text>
<text font-size="10.20" font-weight="normal" stroke="#000" stroke-width="0.2" transform="translate(372.80,267.66) rotate(-90) scale(1.047,1)">IL-2 pg/ml</text>
<text font-size="10.30" font-weight="normal" stroke="#000" stroke-width="0.2" transform="translate(433.80,202.10) scale(1.041,1)">p=0.055</text>
<line x1="422.70" y1="204.30" x2="484.20" y2="204.30" stroke="#000" stroke-width="1.4"/>
<line x1="50.50" y1="316.20" x2="50.50" y2="401.80" stroke="#000" stroke-width="1.35"/>
<line x1="48.30" y1="399.00" x2="173.80" y2="399.00" stroke="#000" stroke-width="1.5"/>
<line x1="48.00" y1="399.00" x2="50.50" y2="399.00" stroke="#000" stroke-width="1.1"/>
<text x="46.90" y="401.10" font-size="6" font-weight="bold" text-anchor="end" stroke="#000" stroke-width="0.1">0</text>
<line x1="48.00" y1="378.43" x2="50.50" y2="378.43" stroke="#000" stroke-width="1.1"/>
<text x="46.90" y="380.53" font-size="6" font-weight="bold" text-anchor="end" stroke="#000" stroke-width="0.1">50</text>
<line x1="48.00" y1="357.85" x2="50.50" y2="357.85" stroke="#000" stroke-width="1.1"/>
<text x="46.90" y="359.95" font-size="6" font-weight="bold" text-anchor="end" stroke="#000" stroke-width="0.1">100</text>
<line x1="48.00" y1="337.27" x2="50.50" y2="337.27" stroke="#000" stroke-width="1.1"/>
<text x="46.90" y="339.38" font-size="6" font-weight="bold" text-anchor="end" stroke="#000" stroke-width="0.1">150</text>
<line x1="48.00" y1="316.70" x2="50.50" y2="316.70" stroke="#000" stroke-width="1.1"/>
<text x="46.90" y="318.80" font-size="6" font-weight="bold" text-anchor="end" stroke="#000" stroke-width="0.1">200</text>
<line x1="81.40" y1="399.00" x2="81.40" y2="401.80" stroke="#000" stroke-width="1.1"/>
<line x1="112.00" y1="399.00" x2="112.00" y2="401.80" stroke="#000" stroke-width="1.1"/>
<line x1="142.60" y1="399.00" x2="142.60" y2="401.80" stroke="#000" stroke-width="1.1"/>
<line x1="173.20" y1="399.00" x2="173.20" y2="401.80" stroke="#000" stroke-width="1.1"/>
<line x1="81.40" y1="326.74" x2="142.60" y2="396.53" stroke="#000" stroke-width="1.05"/>
<line x1="81.40" y1="350.11" x2="142.60" y2="397.77" stroke="#000" stroke-width="1.05"/>
<line x1="81.40" y1="374.10" x2="142.60" y2="397.35" stroke="#000" stroke-width="1.05"/>
<line x1="81.40" y1="378.43" x2="142.60" y2="398.18" stroke="#000" stroke-width="1.05"/>
<line x1="81.40" y1="381.02" x2="142.60" y2="396.94" stroke="#000" stroke-width="1.05"/>
<line x1="81.40" y1="382.75" x2="142.60" y2="398.38" stroke="#000" stroke-width="1.05"/>
<line x1="81.40" y1="385.83" x2="142.60" y2="398.59" stroke="#000" stroke-width="1.05"/>
<line x1="81.40" y1="391.76" x2="142.60" y2="398.79" stroke="#000" stroke-width="1.05"/>
<line x1="81.40" y1="393.49" x2="142.60" y2="399.00" stroke="#000" stroke-width="1.05"/>
<circle cx="142.6" cy="396.53" r="1.75" fill="#000"/>
<circle cx="142.6" cy="397.77" r="1.75" fill="#000"/>
<circle cx="142.6" cy="397.35" r="1.75" fill="#000"/>
<circle cx="142.6" cy="398.18" r="1.75" fill="#000"/>
<circle cx="142.6" cy="396.94" r="1.75" fill="#000"/>
<circle cx="142.6" cy="398.38" r="1.75" fill="#000"/>
<circle cx="142.6" cy="398.59" r="1.75" fill="#000"/>
<circle cx="142.6" cy="398.79" r="1.75" fill="#000"/>
<circle cx="142.6" cy="399.00" r="1.75" fill="#000"/>
<circle cx="81.4" cy="326.74" r="1.45" fill="#fff" stroke="#000" stroke-width="0.95"/>
<circle cx="81.4" cy="350.11" r="1.45" fill="#fff" stroke="#000" stroke-width="0.95"/>
<circle cx="81.4" cy="374.10" r="1.45" fill="#fff" stroke="#000" stroke-width="0.95"/>
<circle cx="81.4" cy="378.43" r="1.45" fill="#fff" stroke="#000" stroke-width="0.95"/>
<circle cx="81.4" cy="381.02" r="1.45" fill="#fff" stroke="#000" stroke-width="0.95"/>
<circle cx="81.4" cy="382.75" r="1.45" fill="#fff" stroke="#000" stroke-width="0.95"/>
<circle cx="81.4" cy="385.83" r="1.45" fill="#fff" stroke="#000" stroke-width="0.95"/>
<circle cx="81.4" cy="391.76" r="1.45" fill="#fff" stroke="#000" stroke-width="0.95"/>
<circle cx="81.4" cy="393.49" r="1.45" fill="#fff" stroke="#000" stroke-width="0.95"/>
<text font-size="8.59" font-weight="normal" fill="#000" stroke="#000" stroke-width="0.26" transform="translate(64.97,410.41) scale(0.999,1)">CD100+</text>
<text font-size="8.59" font-weight="normal" fill="#000" stroke="#000" stroke-width="0.26" transform="translate(126.95,410.41) scale(1.048,1)">CD100-</text>
<text font-size="10.20" font-weight="normal" stroke="#000" stroke-width="0.2" transform="translate(32.00,386.31) rotate(-90) scale(1.041,1)">TNF-&#945; pg/ml</text>
<text font-size="10.30" font-weight="normal" stroke="#000" stroke-width="0.2" transform="translate(89.39,314.50) scale(1.010,1)">*p=0.012</text>
<line x1="81.40" y1="316.80" x2="143.30" y2="316.80" stroke="#000" stroke-width="1.4"/>
<line x1="220.00" y1="312.80" x2="220.00" y2="401.40" stroke="#000" stroke-width="1.35"/>
<line x1="217.80" y1="398.60" x2="349.60" y2="398.60" stroke="#000" stroke-width="1.5"/>
<line x1="217.50" y1="398.60" x2="220.00" y2="398.60" stroke="#000" stroke-width="1.1"/>
<text x="216.40" y="400.70" font-size="6" font-weight="bold" text-anchor="end" stroke="#000" stroke-width="0.1">0</text>
<line x1="217.50" y1="384.38" x2="220.00" y2="384.38" stroke="#000" stroke-width="1.1"/>
<text x="216.40" y="386.48" font-size="6" font-weight="bold" text-anchor="end" stroke="#000" stroke-width="0.1">1</text>
<line x1="217.50" y1="370.17" x2="220.00" y2="370.17" stroke="#000" stroke-width="1.1"/>
<text x="216.40" y="372.27" font-size="6" font-weight="bold" text-anchor="end" stroke="#000" stroke-width="0.1">2</text>
<line x1="217.50" y1="355.95" x2="220.00" y2="355.95" stroke="#000" stroke-width="1.1"/>
<text x="216.40" y="358.05" font-size="6" font-weight="bold" text-anchor="end" stroke="#000" stroke-width="0.1">3</text>
<line x1="217.50" y1="341.73" x2="220.00" y2="341.73" stroke="#000" stroke-width="1.1"/>
<text x="216.40" y="343.83" font-size="6" font-weight="bold" text-anchor="end" stroke="#000" stroke-width="0.1">4</text>
<line x1="217.50" y1="327.52" x2="220.00" y2="327.52" stroke="#000" stroke-width="1.1"/>
<text x="216.40" y="329.62" font-size="6" font-weight="bold" text-anchor="end" stroke="#000" stroke-width="0.1">5</text>
<line x1="217.50" y1="313.30" x2="220.00" y2="313.30" stroke="#000" stroke-width="1.1"/>
<text x="216.40" y="315.40" font-size="6" font-weight="bold" text-anchor="end" stroke="#000" stroke-width="0.1">6</text>
<line x1="252.10" y1="398.60" x2="252.10" y2="401.40" stroke="#000" stroke-width="1.1"/>
<line x1="284.40" y1="398.60" x2="284.40" y2="401.40" stroke="#000" stroke-width="1.1"/>
<line x1="316.70" y1="398.60" x2="316.70" y2="401.40" stroke="#000" stroke-width="1.1"/>
<line x1="349.00" y1="398.60" x2="349.00" y2="401.40" stroke="#000" stroke-width="1.1"/>
<line x1="252.10" y1="325.38" x2="316.70" y2="398.17" stroke="#000" stroke-width="1.05"/>
<line x1="252.10" y1="351.40" x2="316.70" y2="398.32" stroke="#000" stroke-width="1.05"/>
<line x1="252.10" y1="353.11" x2="316.70" y2="398.46" stroke="#000" stroke-width="1.05"/>
<line x1="252.10" y1="354.24" x2="316.70" y2="398.17" stroke="#000" stroke-width="1.05"/>
<line x1="252.10" y1="373.72" x2="316.70" y2="398.32" stroke="#000" stroke-width="1.05"/>
<line x1="252.10" y1="386.94" x2="316.70" y2="398.46" stroke="#000" stroke-width="1.05"/>
<circle cx="316.7" cy="398.17" r="1.75" fill="#000"/>
<circle cx="316.7" cy="398.32" r="1.75" fill="#000"/>
<circle cx="316.7" cy="398.46" r="1.75" fill="#000"/>
<circle cx="316.7" cy="398.17" r="1.75" fill="#000"/>
<circle cx="316.7" cy="398.32" r="1.75" fill="#000"/>
<circle cx="316.7" cy="398.46" r="1.75" fill="#000"/>
<circle cx="252.1" cy="325.38" r="1.45" fill="#fff" stroke="#000" stroke-width="0.95"/>
<circle cx="252.1" cy="351.40" r="1.45" fill="#fff" stroke="#000" stroke-width="0.95"/>
<circle cx="252.1" cy="353.11" r="1.45" fill="#fff" stroke="#000" stroke-width="0.95"/>
<circle cx="252.1" cy="354.24" r="1.45" fill="#fff" stroke="#000" stroke-width="0.95"/>
<circle cx="252.1" cy="373.72" r="1.45" fill="#fff" stroke="#000" stroke-width="0.95"/>
<circle cx="252.1" cy="386.94" r="1.45" fill="#fff" stroke="#000" stroke-width="0.95"/>
<text font-size="8.59" font-weight="normal" fill="#000" stroke="#000" stroke-width="0.26" transform="translate(239.67,410.01) scale(1.002,1)">CD100+</text>
<text font-size="8.59" font-weight="normal" fill="#000" stroke="#000" stroke-width="0.26" transform="translate(301.56,410.01) scale(1.020,1)">CD100-</text>
<text font-size="10.20" font-weight="normal" stroke="#000" stroke-width="0.2" transform="translate(203.10,387.63) rotate(-90) scale(1.019,1)">Perforin pg/ml</text>
<text font-size="10.30" font-weight="normal" stroke="#000" stroke-width="0.2" transform="translate(261.09,314.10) scale(1.015,1)">*p=0.038</text>
<line x1="254.10" y1="316.80" x2="316.00" y2="316.80" stroke="#000" stroke-width="1.4"/>
<line x1="390.90" y1="315.70" x2="390.90" y2="401.60" stroke="#000" stroke-width="1.35"/>
<line x1="388.70" y1="398.80" x2="515.80" y2="398.80" stroke="#000" stroke-width="1.5"/>
<line x1="388.40" y1="398.80" x2="390.90" y2="398.80" stroke="#000" stroke-width="1.1"/>
<text x="387.30" y="400.90" font-size="6" font-weight="bold" text-anchor="end" stroke="#000" stroke-width="0.1">0.0</text>
<line x1="388.40" y1="387.00" x2="390.90" y2="387.00" stroke="#000" stroke-width="1.1"/>
<text x="387.30" y="389.10" font-size="6" font-weight="bold" text-anchor="end" stroke="#000" stroke-width="0.1">0.1</text>
<line x1="388.40" y1="375.20" x2="390.90" y2="375.20" stroke="#000" stroke-width="1.1"/>
<text x="387.30" y="377.30" font-size="6" font-weight="bold" text-anchor="end" stroke="#000" stroke-width="0.1">0.2</text>
<line x1="388.40" y1="363.40" x2="390.90" y2="363.40" stroke="#000" stroke-width="1.1"/>
<text x="387.30" y="365.50" font-size="6" font-weight="bold" text-anchor="end" stroke="#000" stroke-width="0.1">0.3</text>
<line x1="388.40" y1="351.60" x2="390.90" y2="351.60" stroke="#000" stroke-width="1.1"/>
<text x="387.30" y="353.70" font-size="6" font-weight="bold" text-anchor="end" stroke="#000" stroke-width="0.1">0.4</text>
<line x1="388.40" y1="339.80" x2="390.90" y2="339.80" stroke="#000" stroke-width="1.1"/>
<text x="387.30" y="341.90" font-size="6" font-weight="bold" text-anchor="end" stroke="#000" stroke-width="0.1">0.5</text>
<line x1="388.40" y1="328.00" x2="390.90" y2="328.00" stroke="#000" stroke-width="1.1"/>
<text x="387.30" y="330.10" font-size="6" font-weight="bold" text-anchor="end" stroke="#000" stroke-width="0.1">0.6</text>
<line x1="388.40" y1="316.20" x2="390.90" y2="316.20" stroke="#000" stroke-width="1.1"/>
<text x="387.30" y="318.30" font-size="6" font-weight="bold" text-anchor="end" stroke="#000" stroke-width="0.1">0.7</text>
<line x1="422.20" y1="398.80" x2="422.20" y2="401.60" stroke="#000" stroke-width="1.1"/>
<line x1="453.20" y1="398.80" x2="453.20" y2="401.60" stroke="#000" stroke-width="1.1"/>
<line x1="484.20" y1="398.80" x2="484.20" y2="401.60" stroke="#000" stroke-width="1.1"/>
<line x1="515.20" y1="398.80" x2="515.20" y2="401.60" stroke="#000" stroke-width="1.1"/>
<line x1="422.20" y1="318.21" x2="484.20" y2="397.62" stroke="#000" stroke-width="1.05"/>
<line x1="422.20" y1="372.25" x2="484.20" y2="397.62" stroke="#000" stroke-width="1.05"/>
<line x1="422.20" y1="392.31" x2="484.20" y2="392.31" stroke="#000" stroke-width="1.05"/>
<line x1="422.20" y1="394.43" x2="484.20" y2="396.44" stroke="#000" stroke-width="1.05"/>
<line x1="422.20" y1="396.09" x2="484.20" y2="394.08" stroke="#000" stroke-width="1.05"/>
<circle cx="484.2" cy="397.62" r="1.75" fill="#000"/>
<circle cx="484.2" cy="397.62" r="1.75" fill="#000"/>
<circle cx="484.2" cy="392.31" r="1.75" fill="#000"/>
<circle cx="484.2" cy="396.44" r="1.75" fill="#000"/>
<circle cx="484.2" cy="394.08" r="1.75" fill="#000"/>
<circle cx="422.2" cy="318.21" r="1.45" fill="#fff" stroke="#000" stroke-width="0.95"/>
<circle cx="422.2" cy="372.25" r="1.45" fill="#fff" stroke="#000" stroke-width="0.95"/>
<circle cx="422.2" cy="392.31" r="1.45" fill="#fff" stroke="#000" stroke-width="0.95"/>
<circle cx="422.2" cy="394.43" r="1.45" fill="#fff" stroke="#000" stroke-width="0.95"/>
<circle cx="422.2" cy="396.09" r="1.45" fill="#fff" stroke="#000" stroke-width="0.95"/>
<text font-size="8.59" font-weight="normal" fill="#000" stroke="#000" stroke-width="0.26" transform="translate(408.57,410.21) scale(1.006,1)">CD100+</text>
<text font-size="8.59" font-weight="normal" fill="#000" stroke="#000" stroke-width="0.26" transform="translate(470.55,410.21) scale(1.055,1)">CD100-</text>
<text font-size="10.20" font-weight="normal" stroke="#000" stroke-width="0.2" transform="translate(373.10,399.24) rotate(-90) scale(1.057,1)">Granzyme B pg/ml</text>
<text font-size="10.30" font-weight="normal" stroke="#000" stroke-width="0.2" transform="translate(437.31,314.10) scale(1.033,1)">p=0.20</text>
<line x1="422.00" y1="316.80" x2="484.60" y2="316.80" stroke="#000" stroke-width="1.4"/>
<text font-size="18.41" font-weight="bold" fill="#000" transform="translate(0.82,436.70) scale(0.989,1)">D</text>
<line x1="47.60" y1="435.60" x2="47.60" y2="522.90" stroke="#000" stroke-width="1.35"/>
<line x1="45.40" y1="520.10" x2="174.25" y2="520.10" stroke="#000" stroke-width="1.5"/>
<line x1="45.10" y1="520.10" x2="47.60" y2="520.10" stroke="#000" stroke-width="1.1"/>
<text x="44.00" y="522.20" font-size="6" font-weight="bold" text-anchor="end" stroke="#000" stroke-width="0.1">0</text>
<line x1="45.10" y1="506.10" x2="47.60" y2="506.10" stroke="#000" stroke-width="1.1"/>
<text x="44.00" y="508.20" font-size="6" font-weight="bold" text-anchor="end" stroke="#000" stroke-width="0.1">10</text>
<line x1="45.10" y1="492.10" x2="47.60" y2="492.10" stroke="#000" stroke-width="1.1"/>
<text x="44.00" y="494.20" font-size="6" font-weight="bold" text-anchor="end" stroke="#000" stroke-width="0.1">20</text>
<line x1="45.10" y1="478.10" x2="47.60" y2="478.10" stroke="#000" stroke-width="1.1"/>
<text x="44.00" y="480.20" font-size="6" font-weight="bold" text-anchor="end" stroke="#000" stroke-width="0.1">30</text>
<line x1="45.10" y1="464.10" x2="47.60" y2="464.10" stroke="#000" stroke-width="1.1"/>
<text x="44.00" y="466.20" font-size="6" font-weight="bold" text-anchor="end" stroke="#000" stroke-width="0.1">40</text>
<line x1="45.10" y1="450.10" x2="47.60" y2="450.10" stroke="#000" stroke-width="1.1"/>
<text x="44.00" y="452.20" font-size="6" font-weight="bold" text-anchor="end" stroke="#000" stroke-width="0.1">50</text>
<line x1="45.10" y1="436.10" x2="47.60" y2="436.10" stroke="#000" stroke-width="1.1"/>
<text x="44.00" y="438.20" font-size="6" font-weight="bold" text-anchor="end" stroke="#000" stroke-width="0.1">60</text>
<line x1="79.00" y1="520.10" x2="79.00" y2="522.90" stroke="#000" stroke-width="1.1"/>
<line x1="110.55" y1="520.10" x2="110.55" y2="522.90" stroke="#000" stroke-width="1.1"/>
<line x1="142.10" y1="520.10" x2="142.10" y2="522.90" stroke="#000" stroke-width="1.1"/>
<line x1="173.65" y1="520.10" x2="173.65" y2="522.90" stroke="#000" stroke-width="1.1"/>
<line x1="79.00" y1="447.30" x2="142.10" y2="515.20" stroke="#000" stroke-width="1.05"/>
<line x1="79.00" y1="447.30" x2="142.10" y2="519.40" stroke="#000" stroke-width="1.05"/>
<line x1="79.00" y1="475.30" x2="142.10" y2="519.40" stroke="#000" stroke-width="1.05"/>
<line x1="79.00" y1="482.16" x2="142.10" y2="507.92" stroke="#000" stroke-width="1.05"/>
<line x1="79.00" y1="490.98" x2="142.10" y2="518.70" stroke="#000" stroke-width="1.05"/>
<line x1="79.00" y1="496.86" x2="142.10" y2="520.10" stroke="#000" stroke-width="1.05"/>
<circle cx="142.1" cy="515.20" r="1.75" fill="#000"/>
<circle cx="142.1" cy="519.40" r="1.75" fill="#000"/>
<circle cx="142.1" cy="519.40" r="1.75" fill="#000"/>
<circle cx="142.1" cy="507.92" r="1.75" fill="#000"/>
<circle cx="142.1" cy="518.70" r="1.75" fill="#000"/>
<circle cx="142.1" cy="520.10" r="1.75" fill="#000"/>
<circle cx="79.0" cy="447.30" r="1.45" fill="#fff" stroke="#000" stroke-width="0.95"/>
<circle cx="79.0" cy="447.30" r="1.45" fill="#fff" stroke="#000" stroke-width="0.95"/>
<circle cx="79.0" cy="475.30" r="1.45" fill="#fff" stroke="#000" stroke-width="0.95"/>
<circle cx="79.0" cy="482.16" r="1.45" fill="#fff" stroke="#000" stroke-width="0.95"/>
<circle cx="79.0" cy="490.98" r="1.45" fill="#fff" stroke="#000" stroke-width="0.95"/>
<circle cx="79.0" cy="496.86" r="1.45" fill="#fff" stroke="#000" stroke-width="0.95"/>
<text font-size="8.59" font-weight="normal" fill="#000" stroke="#000" stroke-width="0.26" transform="translate(64.38,531.51) scale(0.989,1)">CD100+</text>
<text font-size="8.59" font-weight="normal" fill="#000" stroke="#000" stroke-width="0.26" transform="translate(126.97,531.51) scale(0.999,1)">CD100-</text>
<text font-size="10.20" font-weight="normal" stroke="#000" stroke-width="0.2" transform="translate(33.40,504.24) rotate(-90) scale(1.029,1)">IFN-&#947; pg/ml</text>
<text font-size="10.30" font-weight="normal" stroke="#000" stroke-width="0.2" transform="translate(82.60,433.20) scale(0.992,1)">**p=0.0074</text>
<line x1="80.10" y1="435.70" x2="142.00" y2="435.70" stroke="#000" stroke-width="1.4"/>
<line x1="219.80" y1="432.90" x2="219.80" y2="522.60" stroke="#000" stroke-width="1.35"/>
<line x1="217.60" y1="519.80" x2="349.35" y2="519.80" stroke="#000" stroke-width="1.5"/>
<line x1="217.30" y1="519.80" x2="219.80" y2="519.80" stroke="#000" stroke-width="1.1"/>
<text x="216.20" y="521.90" font-size="6" font-weight="bold" text-anchor="end" stroke="#000" stroke-width="0.1">0</text>
<line x1="217.30" y1="498.20" x2="219.80" y2="498.20" stroke="#000" stroke-width="1.1"/>
<text x="216.20" y="500.30" font-size="6" font-weight="bold" text-anchor="end" stroke="#000" stroke-width="0.1">2</text>
<line x1="217.30" y1="476.60" x2="219.80" y2="476.60" stroke="#000" stroke-width="1.1"/>
<text x="216.20" y="478.70" font-size="6" font-weight="bold" text-anchor="end" stroke="#000" stroke-width="0.1">4</text>
<line x1="217.30" y1="455.00" x2="219.80" y2="455.00" stroke="#000" stroke-width="1.1"/>
<text x="216.20" y="457.10" font-size="6" font-weight="bold" text-anchor="end" stroke="#000" stroke-width="0.1">6</text>
<line x1="217.30" y1="433.40" x2="219.80" y2="433.40" stroke="#000" stroke-width="1.1"/>
<text x="216.20" y="435.50" font-size="6" font-weight="bold" text-anchor="end" stroke="#000" stroke-width="0.1">8</text>
<line x1="252.30" y1="519.80" x2="252.30" y2="522.60" stroke="#000" stroke-width="1.1"/>
<line x1="284.45" y1="519.80" x2="284.45" y2="522.60" stroke="#000" stroke-width="1.1"/>
<line x1="316.60" y1="519.80" x2="316.60" y2="522.60" stroke="#000" stroke-width="1.1"/>
<line x1="348.75" y1="519.80" x2="348.75" y2="522.60" stroke="#000" stroke-width="1.1"/>
<line x1="252.30" y1="439.77" x2="316.60" y2="518.18" stroke="#000" stroke-width="1.05"/>
<line x1="252.30" y1="447.55" x2="316.60" y2="518.18" stroke="#000" stroke-width="1.05"/>
<line x1="252.30" y1="472.71" x2="316.60" y2="506.08" stroke="#000" stroke-width="1.05"/>
<line x1="252.30" y1="495.07" x2="316.60" y2="518.18" stroke="#000" stroke-width="1.05"/>
<line x1="252.30" y1="519.80" x2="316.60" y2="511.27" stroke="#000" stroke-width="1.05"/>
<circle cx="316.6" cy="518.18" r="1.75" fill="#000"/>
<circle cx="316.6" cy="518.18" r="1.75" fill="#000"/>
<circle cx="316.6" cy="506.08" r="1.75" fill="#000"/>
<circle cx="316.6" cy="518.18" r="1.75" fill="#000"/>
<circle cx="316.6" cy="511.27" r="1.75" fill="#000"/>
<circle cx="252.3" cy="439.77" r="1.45" fill="#fff" stroke="#000" stroke-width="0.95"/>
<circle cx="252.3" cy="447.55" r="1.45" fill="#fff" stroke="#000" stroke-width="0.95"/>
<circle cx="252.3" cy="472.71" r="1.45" fill="#fff" stroke="#000" stroke-width="0.95"/>
<circle cx="252.3" cy="495.07" r="1.45" fill="#fff" stroke="#000" stroke-width="0.95"/>
<circle cx="252.3" cy="519.80" r="1.45" fill="#fff" stroke="#000" stroke-width="0.95"/>
<text font-size="8.59" font-weight="normal" fill="#000" stroke="#000" stroke-width="0.26" transform="translate(238.57,531.21) scale(1.006,1)">CD100+</text>
<text font-size="8.59" font-weight="normal" fill="#000" stroke="#000" stroke-width="0.26" transform="translate(300.55,531.21) scale(1.041,1)">CD100-</text>
<text font-size="10.20" font-weight="normal" stroke="#000" stroke-width="0.2" transform="translate(202.90,500.86) rotate(-90) scale(1.049,1)">IL-2 pg/ml</text>
<text font-size="10.30" font-weight="normal" stroke="#000" stroke-width="0.2" transform="translate(263.80,433.50) scale(1.041,1)">p=0.075</text>
<line x1="252.70" y1="435.70" x2="314.60" y2="435.70" stroke="#000" stroke-width="1.4"/>
<line x1="389.40" y1="435.10" x2="389.40" y2="522.80" stroke="#000" stroke-width="1.35"/>
<line x1="387.20" y1="520.00" x2="516.30" y2="520.00" stroke="#000" stroke-width="1.5"/>
<line x1="386.90" y1="520.00" x2="389.40" y2="520.00" stroke="#000" stroke-width="1.1"/>
<text x="385.80" y="522.10" font-size="6" font-weight="bold" text-anchor="end" stroke="#000" stroke-width="0.1">0</text>
<line x1="386.90" y1="498.90" x2="389.40" y2="498.90" stroke="#000" stroke-width="1.1"/>
<text x="385.80" y="501.00" font-size="6" font-weight="bold" text-anchor="end" stroke="#000" stroke-width="0.1">5</text>
<line x1="386.90" y1="477.80" x2="389.40" y2="477.80" stroke="#000" stroke-width="1.1"/>
<text x="385.80" y="479.90" font-size="6" font-weight="bold" text-anchor="end" stroke="#000" stroke-width="0.1">10</text>
<line x1="386.90" y1="456.70" x2="389.40" y2="456.70" stroke="#000" stroke-width="1.1"/>
<text x="385.80" y="458.80" font-size="6" font-weight="bold" text-anchor="end" stroke="#000" stroke-width="0.1">15</text>
<line x1="386.90" y1="435.60" x2="389.40" y2="435.60" stroke="#000" stroke-width="1.1"/>
<text x="385.80" y="437.70" font-size="6" font-weight="bold" text-anchor="end" stroke="#000" stroke-width="0.1">20</text>
<line x1="420.90" y1="520.00" x2="420.90" y2="522.80" stroke="#000" stroke-width="1.1"/>
<line x1="452.50" y1="520.00" x2="452.50" y2="522.80" stroke="#000" stroke-width="1.1"/>
<line x1="484.10" y1="520.00" x2="484.10" y2="522.80" stroke="#000" stroke-width="1.1"/>
<line x1="515.70" y1="520.00" x2="515.70" y2="522.80" stroke="#000" stroke-width="1.1"/>
<line x1="420.90" y1="441.51" x2="484.10" y2="520.00" stroke="#000" stroke-width="1.05"/>
<line x1="420.90" y1="452.48" x2="484.10" y2="520.00" stroke="#000" stroke-width="1.05"/>
<line x1="420.90" y1="460.08" x2="484.10" y2="485.82" stroke="#000" stroke-width="1.05"/>
<line x1="420.90" y1="509.66" x2="484.10" y2="515.06" stroke="#000" stroke-width="1.05"/>
<line x1="420.90" y1="512.40" x2="484.10" y2="520.00" stroke="#000" stroke-width="1.05"/>
<circle cx="484.1" cy="520.00" r="1.75" fill="#000"/>
<circle cx="484.1" cy="520.00" r="1.75" fill="#000"/>
<circle cx="484.1" cy="485.82" r="1.75" fill="#000"/>
<circle cx="484.1" cy="515.06" r="1.75" fill="#000"/>
<circle cx="484.1" cy="520.00" r="1.75" fill="#000"/>
<circle cx="420.9" cy="441.51" r="1.45" fill="#fff" stroke="#000" stroke-width="0.95"/>
<circle cx="420.9" cy="452.48" r="1.45" fill="#fff" stroke="#000" stroke-width="0.95"/>
<circle cx="420.9" cy="460.08" r="1.45" fill="#fff" stroke="#000" stroke-width="0.95"/>
<circle cx="420.9" cy="509.66" r="1.45" fill="#fff" stroke="#000" stroke-width="0.95"/>
<circle cx="420.9" cy="512.40" r="1.45" fill="#fff" stroke="#000" stroke-width="0.95"/>
<text font-size="8.59" font-weight="normal" fill="#000" stroke="#000" stroke-width="0.26" transform="translate(407.67,531.41) scale(0.999,1)">CD100+</text>
<text font-size="8.59" font-weight="normal" fill="#000" stroke="#000" stroke-width="0.26" transform="translate(469.46,531.41) scale(1.020,1)">CD100-</text>
<text font-size="10.20" font-weight="normal" stroke="#000" stroke-width="0.2" transform="translate(373.40,509.74) rotate(-90) scale(1.030,1)">Perforin pg/ml</text>
<text font-size="10.30" font-weight="normal" stroke="#000" stroke-width="0.2" transform="translate(433.79,433.50) scale(1.053,1)">p=0.079</text>
<line x1="422.70" y1="435.70" x2="484.60" y2="435.70" stroke="#000" stroke-width="1.4"/>
</svg></body></html>
